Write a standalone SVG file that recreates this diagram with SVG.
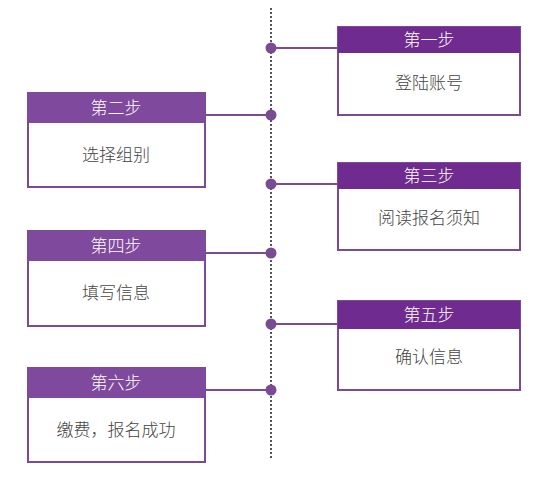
<svg xmlns="http://www.w3.org/2000/svg" width="547" height="478" viewBox="0 0 547 478">
<style>
.box{fill:#fff;stroke:#7a4a92;stroke-width:2}
.hdrR{fill:#6f2b8f}
.hdrL{fill:#7f4a9e}
.ht{font-family:"Noto Sans CJK SC","Noto Sans",sans-serif;font-size:17px;font-weight:300;fill:#fff;text-anchor:middle}
.bt{font-family:"Noto Sans CJK SC","Noto Sans",sans-serif;font-size:17px;font-weight:300;fill:#444;text-anchor:middle}
.conn line{stroke:#7a4a92;stroke-width:2}
.dot{fill:#7a4a92}
</style>
<rect width="547" height="478" fill="#fff"/>
<g id="timeline">
<line x1="271" y1="8" x2="271" y2="458" stroke="#555" stroke-width="2" stroke-dasharray="2,2"/>
</g>
<g class="conn" id="connectors">
<line x1="271" y1="48" x2="338" y2="48"/>
<line x1="205" y1="115" x2="271" y2="115"/>
<line x1="271" y1="184" x2="338" y2="184"/>
<line x1="205" y1="253" x2="271" y2="253"/>
<line x1="271" y1="324" x2="338" y2="324"/>
<line x1="205" y1="390" x2="271" y2="390"/>
<circle class="dot" cx="271" cy="48" r="5.5"/>
<circle class="dot" cx="271" cy="115" r="5.5"/>
<circle class="dot" cx="271" cy="184" r="5.5"/>
<circle class="dot" cx="271" cy="253" r="5.5"/>
<circle class="dot" cx="271" cy="324" r="5.5"/>
<circle class="dot" cx="271" cy="390" r="5.5"/>
</g>
<g id="step1">
<rect class="box" x="338" y="27" width="182" height="88"/>
<rect class="hdrR" x="338" y="27" width="182" height="26"/>
<text class="ht" x="429" y="46">第一步</text>
<text class="bt" x="429" y="89">登陆账号</text>
</g>
<g id="step2">
<rect class="box" x="28" y="93" width="177" height="94"/>
<rect class="hdrL" x="28" y="93" width="177" height="30"/>
<text class="ht" x="116" y="114">第二步</text>
<text class="bt" x="116" y="161">选择组别</text>
</g>
<g id="step3">
<rect class="box" x="338" y="163" width="182" height="87"/>
<rect class="hdrR" x="338" y="163" width="182" height="26"/>
<text class="ht" x="429" y="182">第三步</text>
<text class="bt" x="429" y="224">阅读报名须知</text>
</g>
<g id="step4">
<rect class="box" x="28" y="231" width="177" height="95"/>
<rect class="hdrL" x="28" y="231" width="177" height="30"/>
<text class="ht" x="116" y="252">第四步</text>
<text class="bt" x="116" y="299">填写信息</text>
</g>
<g id="step5">
<rect class="box" x="338" y="301" width="182" height="89"/>
<rect class="hdrR" x="338" y="301" width="182" height="28"/>
<text class="ht" x="429" y="321">第五步</text>
<text class="bt" x="429" y="363">确认信息</text>
</g>
<g id="step6">
<rect class="box" x="28" y="368" width="177" height="94"/>
<rect class="hdrL" x="28" y="368" width="177" height="30"/>
<text class="ht" x="116" y="389">第六步</text>
<text class="bt" x="116" y="436">缴费，报名成功</text>
</g>
</svg>
